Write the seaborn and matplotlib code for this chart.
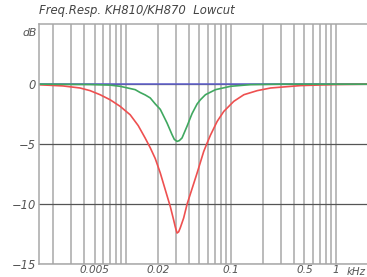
import numpy as np
import pandas as pd
import matplotlib
matplotlib.use('Agg')
import matplotlib.pyplot as plt
import matplotlib.ticker as mticker
import seaborn as sns

# values (frequency in kHz, level in dB)
red_freq = [0.001471, 0.002495, 0.003629, 0.004522, 0.005638, 0.007028, 0.008762,
            0.010922, 0.013023, 0.015198, 0.016972, 0.018945, 0.021151, 0.023610,
            0.026363, 0.028344, 0.029427, 0.030551, 0.031659, 0.032863, 0.035340,
            0.038083, 0.042530, 0.047480, 0.054927, 0.059187, 0.063640, 0.073776,
            0.085317, 0.10636, 0.13262, 0.17808, 0.23878, 0.46247, 1.0, 2.024]
red_db = [-0.05, -0.15, -0.32, -0.54, -0.88, -1.3, -1.85,
          -2.55, -3.45, -4.5, -5.3, -6.2, -7.4, -8.8,
          -10.2, -11.3, -11.9, -12.4, -12.3, -11.95, -11.15,
          -10.0, -8.7, -7.4, -5.6, -4.9, -4.25, -3.1,
          -2.27, -1.43, -0.88, -0.54, -0.32, -0.12, -0.03, 0.0]

green_freq = [0.001471, 0.004522, 0.007028, 0.008762, 0.012194, 0.013614, 0.015198,
              0.016972, 0.018945, 0.021151, 0.024511, 0.027363, 0.028784, 0.030551,
              0.032151, 0.034117, 0.038083, 0.040961, 0.042530, 0.047480, 0.051059,
              0.057016, 0.071073, 0.098900, 0.15370, 0.29764, 2.024]
green_db = [0.0, -0.03, -0.08, -0.18, -0.46, -0.7, -0.9,
            -1.15, -1.65, -2.1, -3.23, -4.2, -4.6, -4.77,
            -4.7, -4.48, -3.5, -2.8, -2.45, -1.65, -1.3,
            -0.88, -0.46, -0.18, -0.04, 0.0, 0.0]

blue_freq = [0.001471, 0.01, 0.1, 1.0, 2.024]
blue_db = [0.0, 0.0, 0.0, 0.0, 0.0]

xtick_vals = [0.005, 0.02, 0.1, 0.5, 1]
xtick_labels = ['0.005', '0.02', '0.1', '0.5', '1']
ytick_vals = [0, -5, -10, -15]

sns.set_style('white')
plt.rcParams['font.family'] = ['DejaVu Sans']
plt.rcParams['axes.unicode_minus'] = True

fig = plt.figure(figsize=(3.67, 2.77), dpi=100)
ax = fig.add_axes([0.105, 0.046, 0.895, 0.867])

sns.lineplot(x=blue_freq, y=blue_db, color='#6060d0', lw=1.1, ax=ax)
sns.lineplot(x=red_freq, y=red_db, color='#ee5050', lw=1.2, ax=ax)
sns.lineplot(x=green_freq, y=green_db, color='#40a860', lw=1.2, ax=ax)

ax.set_xscale('log')
ax.set_xlim(0.00146, 1.98)
ax.set_ylim(-15, 5)

# grid: vertical lines at 1..9 of each decade up to 1 kHz
minor = [m * 10.0 ** e for e in (-3, -2, -1) for m in range(1, 10)] + [1.0]
ax.xaxis.set_minor_locator(mticker.FixedLocator(minor))
ax.xaxis.set_minor_formatter(mticker.NullFormatter())
ax.set_xticks(xtick_vals)
ax.set_xticklabels(xtick_labels)
ax.set_yticks(ytick_vals)
ax.set_yticklabels(['0', '\u22125', '\u221210', '\u221215'])

ax.grid(True, which='both', axis='x', color='#a8a8a8', lw=1.1)
ax.grid(True, which='major', axis='y', color='#555555', lw=0.9)
ax.set_axisbelow(True)
ax.tick_params(which='both', length=0)
ax.tick_params(axis='x', pad=0.8, labelsize=7.6, labelcolor='#555555')
ax.tick_params(axis='y', pad=2, labelsize=8.3, labelcolor='#555555')
for lab in ax.get_xticklabels() + ax.get_yticklabels():
    lab.set_fontstyle('italic')

for side in ['left', 'top', 'bottom']:
    ax.spines[side].set_color('#a8a8a8')
    ax.spines[side].set_linewidth(1.1)
ax.spines['right'].set_visible(False)

ax.text(1.27, -15.2, 'kHz', ha='left', va='top', fontsize=7.4,
        style='italic', color='#555555')
ax.text(-0.005, 0.965, 'dB', transform=ax.transAxes, ha='right', va='center',
        fontsize=7.8, style='italic', color='#555555')
ax.text(0.0, 1.03, 'Freq.Resp. KH810/KH870  Lowcut', transform=ax.transAxes,
        ha='left', va='bottom', fontsize=8.4, style='italic', color='#444444')

fig.savefig('out.png', dpi=100)
